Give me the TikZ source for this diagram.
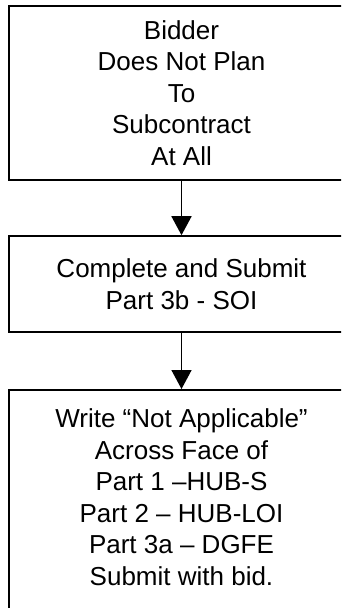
\documentclass[tikz,border=0pt]{standalone}
\usepackage{fontspec}
\setmainfont{Liberation Sans}
\usetikzlibrary{arrows.meta}
\begin{document}
\begin{tikzpicture}[x=1pt, y=-1pt,
    stepbox/.style={draw, line width=1.6pt, minimum width=345pt, inner sep=0pt},
    steptext/.style={align=center, font=\fontsize{26}{31.5}\selectfont},
    flow/.style={line width=1.6pt, -{Triangle[length=19pt, width=20pt]}}]
      \clip (0, 0) rectangle (341, 608);
      \fill[white] (0, 0) rectangle (341, 608);
      \node[stepbox, steptext, minimum height=174pt] (noplan) at (181.5, 93)
        {Bidder\\Does Not Plan\\To\\Subcontract\\At All};
      \node[stepbox, steptext, minimum height=96pt] (soi) at (181.5, 284)
        {Complete and Submit\\Part 3b - SOI};
      \node[stepbox, minimum height=240pt, anchor=north] (notapp) at (181.5, 389) {};
      \node[steptext] (notapptext) at (181.5, 497)
        {Write “Not Applicable”\\Across Face of\\Part 1 –HUB-S\\Part 2 – HUB-LOI\\Part 3a – DGFE\\Submit with bid.};
      \draw[flow] (noplan) -- (soi);
      \draw[flow] (soi) -- (notapp);
    \end{tikzpicture}
\end{document}
